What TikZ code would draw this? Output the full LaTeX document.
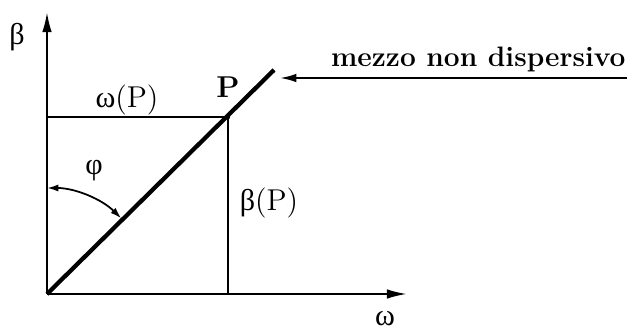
\documentclass[tikz,border=0pt]{standalone}
\usepackage{fontspec}
\newfontfamily\grk{Liberation Serif}
\usetikzlibrary{arrows.meta,positioning}

\begin{document}
\begin{tikzpicture}[x=0.14cm, y=0.14cm,
    axis/.style={line width=0.8pt, -{Latex[length=8pt, width=3.8pt]}},
    guide/.style={line width=0.6pt},
    label/.style={inner sep=1pt, font=\large}]
    \useasboundingbox (0,0) rectangle (62.7,33.3);

    % assi
    \coordinate (O) at (4.7,3.9);
    \coordinate (Ytip) at (4.7,32.1);
    \coordinate (Xtip) at (40.7,3.9);
    \draw[axis] (O) -- (Ytip);
    \draw[axis] (O) -- (Xtip);
    \node[label] (beta) at (1.7,29.6) {\grk β};
    \node[label] (omega) at (38.5,1.4) {\grk ω};

    % retta e punto P
    \coordinate (P) at (22.8,21.6);
    \coordinate (Rend) at (27.4,26.3);
    \coordinate (Pb) at (22.8,3.9);
    \coordinate (Pl) at (4.7,21.6);
    \draw[guide] (Pl) -- (P) -- (Pb);
    \draw[line width=1.7pt] (O) -- (Rend);
    \fill (P) circle (0.22);
    \node[label, font=\large\bfseries] (Plab) at (22.8,24.6) {P};
    \node[label] (wP) at (12.7,23.3) {{\grk ω}(P)};
    \node[label] (bP) at (26.9,13.0) {{\grk β}(P)};

    % angolo
    \draw[line width=0.7pt, {Latex[length=4.5pt, width=2.8pt]}-{Latex[length=4.5pt, width=2.8pt]}]
        ([shift={(90:10.6)}]O) arc[start angle=90, end angle=45.5, radius=10.6];
    \node[label] (phi) at (9.4,16.2) {\grk φ};

    % didascalia
    \coordinate (Aend) at (62.7,25.5);
    \coordinate (Atip) at (28.0,25.5);
    \draw[line width=0.8pt, -{Latex[length=6.5pt, width=3.4pt]}] (Aend) -- (Atip);
    \node[anchor=base east, inner sep=0pt, font=\fontsize{11.2}{13}\selectfont\bfseries] (mezzo) at (62.6,26.6) {mezzo non dispersivo};
\end{tikzpicture}
\end{document}
